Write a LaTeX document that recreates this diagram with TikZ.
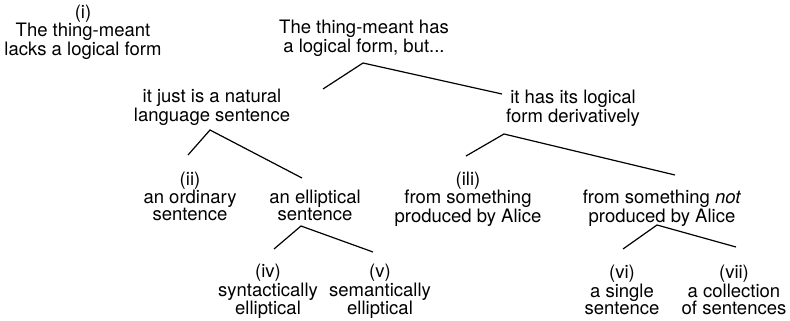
\documentclass[tikz,border=0pt]{standalone}
\usepackage{fontspec}
\setmainfont{TeX Gyre Heros}
\usepackage{tikz}

\begin{document}
\begin{tikzpicture}[x=1pt, y=-1pt, line width=1.2pt,
    every node/.style={align=center, inner sep=0pt, font=\fontsize{18.5}{17}\selectfont}]
        \useasboundingbox (0,0) rectangle (790,321);
        % text of the tree
        \node (i) at (83,32) {(i)\\The thing-meant\\lacks a logical form};
        \node (root) at (364,38.5) {The thing-meant has\\a logical form, but...};
        \node (nat) at (212,107.5) {it just is a natural\\language sentence};
        \node (deriv) at (573,108.5) {it has its logical\\form derivatively};
        \node (ii) at (190,196.5) {(ii)\\an ordinary\\sentence};
        \node (ell) at (315,205.5) {an elliptical\\sentence};
        \node (iii) at (468,199) {(ili)\\from something\\produced by Alice};
        \node (notalice) at (662,208.5) {from something \textit{not}\\produced by Alice};
        \node (iv) at (268,291.5) {(iv)\\syntactically\\elliptical};
        \node (v) at (380,291.5) {(v)\\semantically\\elliptical};
        \node (vi) at (622,290) {(vi)\\a single\\sentence};
        \node (vii) at (734,290) {(vii)\\a collection\\of sentences};
        % branch points
        \coordinate (root-top) at (363,63);
        \coordinate (root-l) at (323,89);
        \coordinate (root-r) at (502,94);
        \coordinate (nat-top) at (210,130);
        \coordinate (nat-l) at (188,155);
        \coordinate (nat-r) at (302,178);
        \coordinate (deriv-top) at (504,134);
        \coordinate (deriv-l) at (466,156);
        \coordinate (deriv-r) at (675,175);
        \coordinate (ell-top) at (301,226);
        \coordinate (ell-l) at (274,249);
        \coordinate (ell-r) at (373,252);
        \coordinate (notalice-top) at (657,225);
        \coordinate (notalice-l) at (623,249);
        \coordinate (notalice-r) at (736,247);
        \draw (root-l) -- (root-top) -- (root-r);
        \draw (nat-l) -- (nat-top) -- (nat-r);
        \draw (deriv-l) -- (deriv-top) -- (deriv-r);
        \draw (ell-l) -- (ell-top) -- (ell-r);
        \draw (notalice-l) -- (notalice-top) -- (notalice-r);
      \end{tikzpicture}
\end{document}
